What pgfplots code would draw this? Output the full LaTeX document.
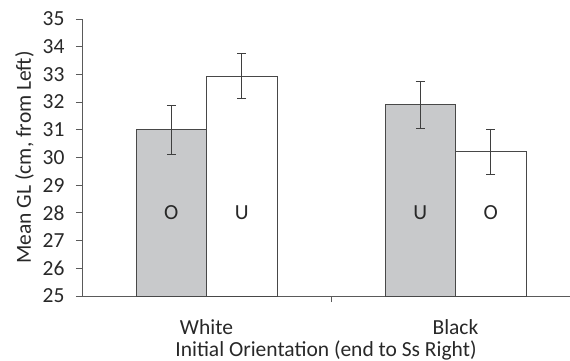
\documentclass[border=0pt]{standalone}
\usepackage{pgfplots}
\pgfplotsset{compat=1.18}
\usepackage{fontspec}
\setmainfont{Carlito}
\usetikzlibrary{calc}
\definecolor{bargray}{RGB}{200,201,203}
\definecolor{txt}{RGB}{40,40,40}
\definecolor{axgray}{RGB}{90,90,90}
\begin{document}
\begin{tikzpicture}[font=\fontsize{21.5}{25}\selectfont, text=txt]
\begin{axis}[
  scale only axis,
  width=488pt, height=277pt,
  xmin=-0.5, xmax=1.46,
  ymin=25, ymax=35,
  ytick={25,26,...,35},
  xtick={0.5},
  xticklabels={},
  extra x ticks={0,1},
  extra x tick labels={White,Black},
  extra x tick style={major tick length=0pt, tick style={draw=none}},
  axis x line=bottom,
  axis y line=left,
  axis line style={axgray, line width=0.8pt, -},
  major tick length=6pt,
  tick style={axgray, line width=0.8pt},
  tick align=outside,
  /pgf/number format/assume math mode=true,
  yticklabel style={font=\fontsize{21.5}{25}\selectfont, xshift=-8pt},
  xticklabel style={font=\fontsize{21.5}{25}\selectfont, yshift=-20pt},
  xlabel={Initial Orientation (end to Ss Right)},
  ylabel={Mean GL (cm, from Left)},
  xlabel style={font=\fontsize{21.5}{25}\selectfont, at={(axis description cs:0.5,-0.2202)}, anchor=base, inner sep=0pt},
  ylabel style={font=\fontsize{21.5}{25}\selectfont, at={(axis description cs:-0.098,0.5)}, anchor=south, inner sep=0pt},
  bar width=0.283,
  ybar,
  clip=false,
]
\addplot[fill=bargray, draw=axgray!80!black, line width=0.8pt, bar shift=-0.1415,
  error bars/.cd, y dir=both, y explicit,
  error bar style={line width=0.9pt, axgray!70!black}, error mark options={rotate=90, mark size=4.5pt, line width=0.9pt, axgray!70!black}]
  coordinates {(0,31.0) +- (0,0.88) (1,31.9) +- (0,0.84)};
\addplot[fill=white, draw=axgray!80!black, line width=0.8pt, bar shift=0.1415,
  error bars/.cd, y dir=both, y explicit,
  error bar style={line width=0.9pt, axgray!70!black}, error mark options={rotate=90, mark size=4.5pt, line width=0.9pt, axgray!70!black}]
  coordinates {(0,32.94) +- (0,0.82) (1,30.21) +- (0,0.82)};
\node at (axis cs:-0.1415,28) {O};
\node at (axis cs:0.1415,28) {U};
\node at (axis cs:0.8585,28) {U};
\node at (axis cs:1.1415,28) {O};
\coordinate (bl) at (rel axis cs:0,0);
\coordinate (tr) at (rel axis cs:1,1);
\end{axis}
\pgfresetboundingbox
\path ($(bl)+(-82pt,-65pt)$) rectangle ($(tr)+(0pt,19pt)$);
\end{tikzpicture}
\end{document}
